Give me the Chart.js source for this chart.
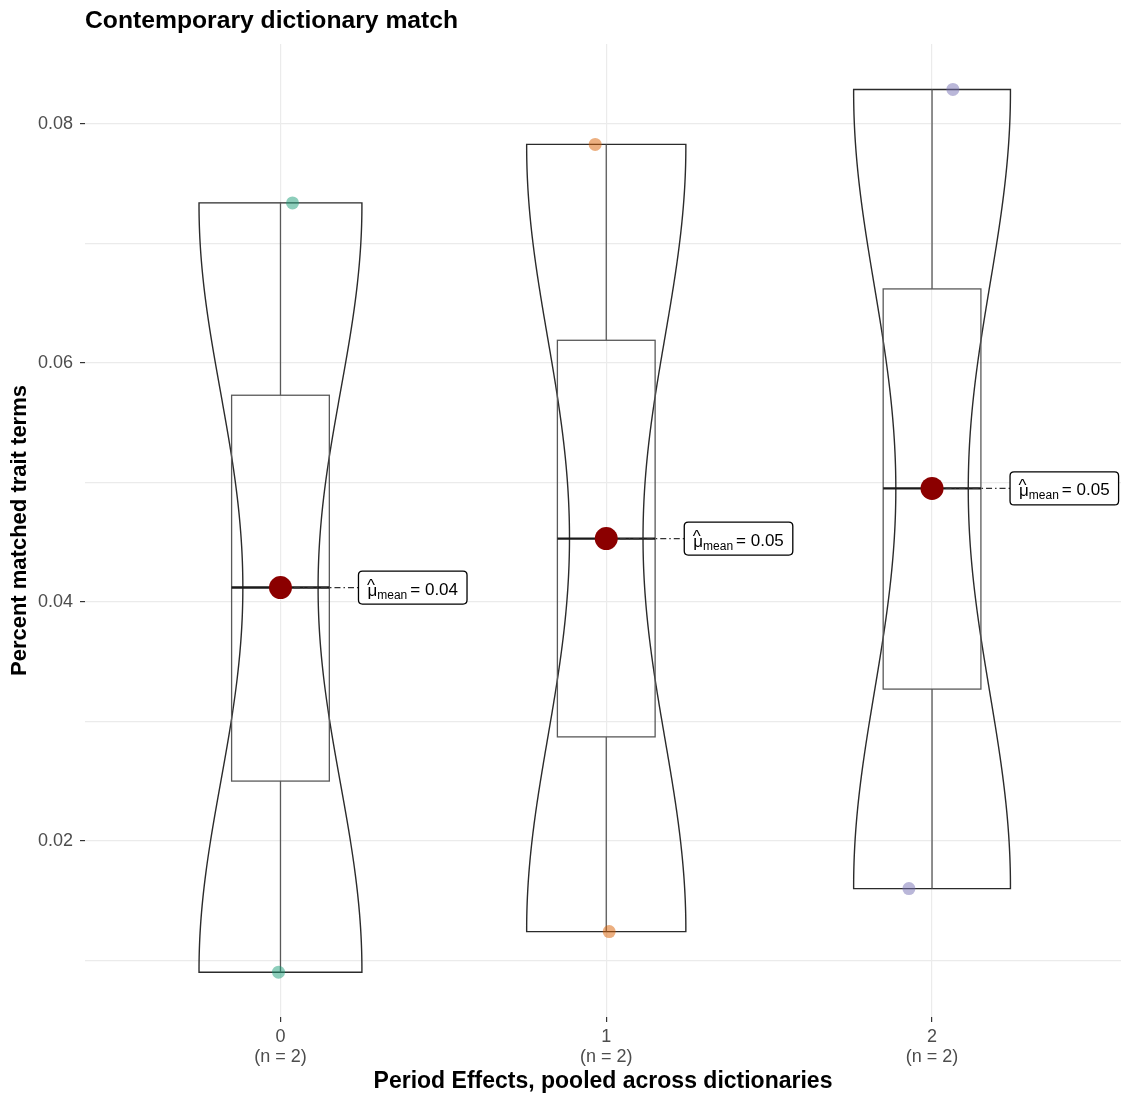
<!DOCTYPE html>
<html><head><meta charset="utf-8">
<script src="https://cdn.jsdelivr.net/npm/chart.js@4.4.1/dist/chart.umd.min.js"></script>
<style>html,body{margin:0;padding:0;background:#fff;}#wrap{width:1121px;height:1095px;}</style>
</head><body><div id="wrap"><canvas id="c" width="1121" height="1095"></canvas></div>
<script>
// ---- data ----
const groups = [0, 1, 2];
const groupLabels = ['0', '1', '2'];
const groupCounts = [2, 2, 2];
const valuesG0 = [0.0734, 0.0090];
const valuesG1 = [0.0783, 0.0124];
const valuesG2 = [0.0829, 0.0160];
const jitterG0 = [0.037, -0.006];
const jitterG1 = [-0.034, 0.009];
const jitterG2 = [0.064, -0.071];
const boxQ1 = [0.0250, 0.0287, 0.0327];
const boxMedian = [0.0412, 0.0453, 0.0495];
const boxQ3 = [0.0573, 0.0619, 0.0662];
const meanValues = [0.0412, 0.0453, 0.0495];
const majorYTicks = [0.02, 0.04, 0.06, 0.08];
const minorYTicks = [0.01, 0.03, 0.05, 0.07];

const groupValues = [valuesG0, valuesG1, valuesG2];
const groupJitter = [jitterG0, jitterG1, jitterG2];
const pointColors = ['rgba(27,158,119,0.5)', 'rgba(217,95,2,0.5)', 'rgba(117,112,179,0.5)'];
const FONT = '"Liberation Sans", Arial, sans-serif';
Chart.defaults.font.family = FONT;

// kernel density (gaussian, nrd0 bandwidth) for violin outlines
function quantile7(sorted, p) {
  const h = (sorted.length - 1) * p, lo = Math.floor(h), hi = Math.ceil(h);
  return sorted[lo] + (h - lo) * (sorted[hi] - sorted[lo]);
}
function bwNrd0(vals) {
  const n = vals.length, m = vals.reduce((a, b) => a + b, 0) / n;
  const sd = Math.sqrt(vals.reduce((a, b) => a + (b - m) * (b - m), 0) / (n - 1));
  const s = [...vals].sort((a, b) => a - b);
  const iqr = quantile7(s, 0.75) - quantile7(s, 0.25);
  return 0.9 * Math.min(sd, iqr / 1.34) * Math.pow(n, -0.2);
}
function density(vals, bw, y) {
  let s = 0;
  for (const v of vals) { const z = (y - v) / bw; s += Math.exp(-0.5 * z * z); }
  return s / (vals.length * bw * Math.sqrt(2 * Math.PI));
}
const violins = groupValues.map(vals => {
  const bw = bwNrd0(vals), lo = Math.min(...vals), hi = Math.max(...vals);
  const pts = [];
  for (let i = 0; i <= 256; i++) { const y = lo + (hi - lo) * i / 256; pts.push([y, density(vals, bw, y)]); }
  return pts;
});
const densMax = Math.max(...violins.flatMap(p => p.map(q => q[1])));

const violinPlugin = {
  id: 'violinBox',
  beforeDatasetsDraw(chart) {
    const ctx = chart.ctx, xs = chart.scales.x, ys = chart.scales.y;
    ctx.save();
    groups.forEach((g, i) => {
      // violin
      const pts = violins[i];
      ctx.beginPath();
      pts.forEach((p, k) => {
        const x = xs.getPixelForValue(g - 0.25 * p[1] / densMax), y = ys.getPixelForValue(p[0]);
        k ? ctx.lineTo(x, y) : ctx.moveTo(x, y);
      });
      for (let k = pts.length - 1; k >= 0; k--) {
        const p = pts[k];
        ctx.lineTo(xs.getPixelForValue(g + 0.25 * p[1] / densMax), ys.getPixelForValue(p[0]));
      }
      ctx.closePath();
      ctx.strokeStyle = '#2b2b2b'; ctx.lineWidth = 1.4; ctx.stroke();
      // whiskers
      const cx = xs.getPixelForValue(g);
      const vmin = Math.min(...groupValues[i]), vmax = Math.max(...groupValues[i]);
      ctx.strokeStyle = '#595959'; ctx.lineWidth = 1.3;
      ctx.beginPath();
      ctx.moveTo(cx, ys.getPixelForValue(boxQ3[i])); ctx.lineTo(cx, ys.getPixelForValue(vmax));
      ctx.moveTo(cx, ys.getPixelForValue(boxQ1[i])); ctx.lineTo(cx, ys.getPixelForValue(vmin));
      ctx.stroke();
      // box
      const bl = xs.getPixelForValue(g - 0.15), br = xs.getPixelForValue(g + 0.15);
      const bt = ys.getPixelForValue(boxQ3[i]), bb = ys.getPixelForValue(boxQ1[i]);
      ctx.strokeRect(bl, bt, br - bl, bb - bt);
      // median
      ctx.strokeStyle = '#1a1a1a'; ctx.lineWidth = 2.4;
      ctx.beginPath();
      const my = ys.getPixelForValue(boxMedian[i]);
      ctx.moveTo(bl, my); ctx.lineTo(br, my); ctx.stroke();
      // connector to label
      ctx.strokeStyle = '#333333'; ctx.lineWidth = 1.2;
      ctx.setLineDash([6, 3, 1.5, 3]);
      const mY = ys.getPixelForValue(meanValues[i]);
      ctx.beginPath(); ctx.moveTo(cx, mY); ctx.lineTo(cx + 78, mY); ctx.stroke();
      ctx.setLineDash([]);
    });
    ctx.restore();
  },
  afterDatasetsDraw(chart) {
    const ctx = chart.ctx, xs = chart.scales.x, ys = chart.scales.y;
    ctx.save();
    groups.forEach((g, i) => {
      const cx = xs.getPixelForValue(g), cy = ys.getPixelForValue(meanValues[i]);
      const rest = '= ' + meanValues[i].toFixed(2);
      ctx.font = '17px ' + FONT; const wMu = ctx.measureText('\u03bc').width;
      ctx.font = '12px ' + FONT; const wSub = ctx.measureText('mean').width;
      ctx.font = '17px ' + FONT; const wRest = ctx.measureText(rest).width;
      const padX = 9, gap = 3;
      const w = padX * 2 + wMu + wSub + gap + wRest, h = 33;
      const x0 = cx + 78, y0 = cy - h / 2, r = 4;
      ctx.beginPath();
      ctx.moveTo(x0 + r, y0); ctx.lineTo(x0 + w - r, y0); ctx.quadraticCurveTo(x0 + w, y0, x0 + w, y0 + r);
      ctx.lineTo(x0 + w, y0 + h - r); ctx.quadraticCurveTo(x0 + w, y0 + h, x0 + w - r, y0 + h);
      ctx.lineTo(x0 + r, y0 + h); ctx.quadraticCurveTo(x0, y0 + h, x0, y0 + h - r);
      ctx.lineTo(x0, y0 + r); ctx.quadraticCurveTo(x0, y0, x0 + r, y0); ctx.closePath();
      ctx.fillStyle = '#ffffff'; ctx.fill();
      ctx.strokeStyle = '#000000'; ctx.lineWidth = 1.3; ctx.stroke();
      ctx.fillStyle = '#000000'; ctx.textBaseline = 'alphabetic'; ctx.textAlign = 'left';
      let tx = x0 + padX;
      ctx.font = '17px ' + FONT; ctx.fillText('\u03bc', tx, cy + 8);
      ctx.font = '17px ' + FONT; ctx.fillText('^', tx - 0.5, cy + 3);
      tx += wMu;
      ctx.font = '12px ' + FONT; ctx.fillText('mean', tx, cy + 11);
      tx += wSub + gap;
      ctx.font = '17px ' + FONT; ctx.fillText(rest, tx, cy + 7);
    });
    ctx.restore();
  }
};

const pointDatasets = groups.map((g, i) => ({
  label: 'group ' + groupLabels[i],
  data: groupValues[i].map((v, k) => ({ x: g + groupJitter[i][k], y: v })),
  backgroundColor: pointColors[i], borderWidth: 0, pointRadius: 6.5, order: 2
}));
const meanDataset = {
  label: 'mean',
  data: groups.map((g, i) => ({ x: g, y: meanValues[i] })),
  backgroundColor: '#8B0000', borderWidth: 0, pointRadius: 11.5, order: 1
};

new Chart(document.getElementById('c'), {
  type: 'scatter',
  data: { datasets: [...pointDatasets, meanDataset] },
  plugins: [violinPlugin],
  options: {
    responsive: false, animation: false, devicePixelRatio: 1, events: [],
    layout: { padding: 0, autoPadding: false },
    plugins: {
      legend: { display: false }, tooltip: { enabled: false },
      title: {
        display: true, text: 'Contemporary dictionary match', align: 'start', fullSize: false,
        color: '#000', font: { size: 24.7, weight: 'bold', family: FONT, lineHeight: 1.2 },
        padding: { top: 6, bottom: 8.4 }
      }
    },
    scales: {
      x: {
        type: 'linear', min: -0.6, max: 2.58,
        afterBuildTicks: s => { s.ticks = groups.map(v => ({ value: v })); },
        afterFit: s => { s.height = 78; s.paddingLeft = 0; s.paddingRight = 0; },
        ticks: {
          color: '#4D4D4D', font: { size: 18, lineHeight: 1.1 }, padding: 5, maxRotation: 0,
          callback: v => { const i = groups.indexOf(v); return [groupLabels[i], '(n = ' + groupCounts[i] + ')']; }
        },
        grid: { color: '#EBEBEB', lineWidth: 1.2, tickColor: '#333333', tickLength: 5 },
        border: { display: false },
        title: { display: true, text: 'Period Effects, pooled across dictionaries', color: '#000',
          font: { size: 23, weight: 'bold', lineHeight: 1 }, padding: { top: 0, bottom: 1.5 } }
      },
      y: {
        type: 'linear', min: 0.00525, max: 0.0867,
        afterBuildTicks: s => { s.ticks = [...minorYTicks, ...majorYTicks].sort((a, b) => a - b).map(v => ({ value: v })); },
        afterFit: s => { s.width = 85; s.paddingTop = 0; s.paddingBottom = 0; },
        ticks: {
          color: '#4D4D4D', font: { size: 18 }, padding: 7,
          callback: v => majorYTicks.some(m => Math.abs(m - v) < 1e-9) ? v.toFixed(2) : ''
        },
        grid: {
          color: '#EBEBEB', lineWidth: 1.2, tickLength: 5,
          tickColor: c => majorYTicks.some(m => Math.abs(m - c.tick.value) < 1e-9) ? '#333333' : 'rgba(0,0,0,0)'
        },
        border: { display: false },
        title: { display: true, text: 'Percent matched trait terms', color: '#000',
          font: { size: 22, weight: 'bold', lineHeight: 1.2 }, padding: { top: 7, bottom: 0 } }
      }
    }
  }
});
</script></body></html>
